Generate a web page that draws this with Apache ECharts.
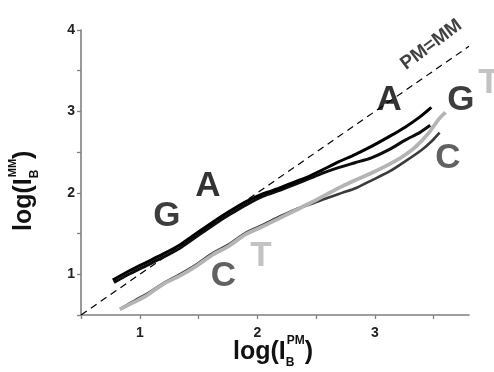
<!DOCTYPE html>
<html><head><meta charset="utf-8">
<script src="https://cdn.jsdelivr.net/npm/echarts@6/dist/echarts.min.js"></script>
<style>html,body{margin:0;padding:0;background:#fff}#c{width:494px;height:372px}</style>
</head><body><div id="c"></div>
<script>
// ---- data ----
const xTickValues = [0.5, 1, 1.5, 2, 2.5, 3, 3.5];
const xLabelValues = [1, 2, 3];
const yTickValues = [0.5, 1, 1.5, 2, 2.5, 3, 3.5, 4];
const yLabelValues = [1, 2, 3, 4];

const identityLine = [[0.5, 0.5], [3.8, 3.8]];

const seriesA = [[0.77,0.93],[0.92,1.05],[1.06,1.15],[1.2,1.25],[1.34,1.36],[1.48,1.5],[1.62,1.64],[1.76,1.77],[1.9,1.89],[2.05,1.99],[2.19,2.06],[2.33,2.14],[2.45,2.21],[2.55,2.28],[2.69,2.38],[2.83,2.47],[2.97,2.57],[3.12,2.69],[3.26,2.81],[3.38,2.93],[3.48,3.05]];
const seriesG = [[0.78,0.9],[0.92,1.01],[1.06,1.11],[1.2,1.21],[1.34,1.32],[1.48,1.46],[1.62,1.6],[1.76,1.73],[1.9,1.85],[2.05,1.96],[2.19,2.03],[2.33,2.11],[2.45,2.18],[2.55,2.24],[2.69,2.31],[2.83,2.37],[2.97,2.43],[3.12,2.53],[3.26,2.65],[3.38,2.74],[3.47,2.83]];
const seriesC = [[0.84,0.58],[0.97,0.69],[1.06,0.76],[1.2,0.89],[1.34,1.0],[1.48,1.12],[1.62,1.26],[1.76,1.37],[1.9,1.51],[2.05,1.61],[2.19,1.71],[2.33,1.8],[2.47,1.87],[2.6,1.94],[2.72,2.0],[2.84,2.06],[2.98,2.16],[3.12,2.26],[3.26,2.39],[3.4,2.53],[3.48,2.63],[3.55,2.74]];
const seriesT = [[0.83,0.57],[0.97,0.67],[1.06,0.74],[1.2,0.88],[1.34,0.98],[1.48,1.1],[1.62,1.24],[1.76,1.35],[1.9,1.49],[2.05,1.59],[2.19,1.69],[2.33,1.79],[2.47,1.89],[2.6,1.99],[2.72,2.08],[2.84,2.16],[2.98,2.25],[3.12,2.35],[3.24,2.45],[3.35,2.57],[3.46,2.74],[3.54,2.9],[3.6,2.99]];

const letterNames = ['G', 'A', 'C', 'T', 'A', 'G', 'T', 'C'];
const letterX = [1.23, 1.58, 1.71, 2.03, 3.12, 3.73, 3.97, 3.62];
const letterY = [1.71, 2.08, 0.98, 1.22, 3.14, 3.13, 3.34, 2.42];
const letterSeries = ['G', 'A', 'C', 'T', 'A', 'G', 'T', 'C'];

const identityLabel = 'PM=MM';
const identityLabelPos = [3.48, 3.82];

// ---- styles ----
const FONT = "'Liberation Sans', Arial, Helvetica, sans-serif";
const colorOf = { A: '#000000', G: '#0d0d0d', C: '#3a3a3a', T: '#b4b4b4' };
const AXIS_COLOR = '#808080';

const letterData = letterNames.map((n, i) => ({
  name: n,
  value: [letterX[i], letterY[i]],
  label: { color: colorOf[letterSeries[i]] }
}));

const chart = echarts.init(document.getElementById('c'), null, { renderer: 'canvas' });

const axisCommon = {
  axisLine: { show: true, lineStyle: { color: AXIS_COLOR, width: 1.6 } },
  splitLine: { show: false },
  axisLabel: { fontFamily: FONT, fontWeight: 'bold', fontSize: 14, color: '#222' }
};

const richTitle = (sup) => ({
  m: { fontFamily: FONT, fontWeight: 'bold', fontSize: 25, lineHeight: 34, fill: '#111' },
  b: { fontFamily: FONT, fontWeight: 'bold', fontSize: 12, lineHeight: 12, verticalAlign: 'bottom', width: 1, fill: '#111' },
  s: { fontFamily: FONT, fontWeight: 'bold', fontSize: sup, lineHeight: 12, verticalAlign: 'top', fill: '#111' }
});

const option = {
  animation: false,
  backgroundColor: '#ffffff',
  grid: { left: 81, right: 25, top: 30, bottom: 57, containLabel: false, outerBoundsMode: 'none' },
  xAxis: {
    type: 'value', min: 0.5, max: 3.8,
    ...axisCommon,
    axisTick: { show: true, length: 4, lineStyle: { color: AXIS_COLOR, width: 1.3 }, customValues: xTickValues },
    axisLabel: { ...axisCommon.axisLabel, margin: 11, customValues: xLabelValues, formatter: v => String(v) }
  },
  yAxis: {
    type: 'value', min: 0.5, max: 4,
    ...axisCommon,
    axisTick: { show: true, length: 4, lineStyle: { color: AXIS_COLOR, width: 1.3 }, customValues: yTickValues },
    axisLabel: { ...axisCommon.axisLabel, margin: 6, customValues: yLabelValues, formatter: v => String(v) }
  },
  series: [
    { name: 'PM=MM', type: 'line', data: identityLine, showSymbol: false, silent: true,
      lineStyle: { color: '#000', width: 1.2, type: [7, 5] }, z: 1 },
    { name: 'C', type: 'line', data: seriesC, showSymbol: false, silent: true, smooth: 0.25,
      lineStyle: { color: colorOf.C, width: 2.6 }, z: 2 },
    { name: 'T', type: 'line', data: seriesT, showSymbol: false, silent: true, smooth: 0.25,
      lineStyle: { color: colorOf.T, width: 3.8 }, z: 3 },
    { name: 'G', type: 'line', data: seriesG, showSymbol: false, silent: true, smooth: 0.25,
      lineStyle: { color: colorOf.G, width: 3 }, z: 4 },
    { name: 'A', type: 'line', data: seriesA, showSymbol: false, silent: true, smooth: 0.25,
      lineStyle: { color: colorOf.A, width: 3 }, z: 5 },
    { name: 'letters', type: 'scatter', data: letterData, symbolSize: 0, silent: true, clip: false, z: 6,
      label: { show: true, position: 'inside', formatter: '{b}', fontFamily: FONT, fontWeight: 'bold', fontSize: 35 } },
    { name: 'idlabel', type: 'scatter', data: [{ name: identityLabel, value: identityLabelPos }], symbolSize: 0, silent: true, clip: false, z: 6,
      label: { show: true, position: 'inside', formatter: '{b}', fontFamily: FONT, fontWeight: 'bold', fontSize: 19, color: '#111', rotate: 37 } }
  ],
  graphic: [
    { type: 'text', x: 233, y: 352, silent: true,
      style: { text: '{m|log(I}{b|B}{s|PM}{m|)}', align: 'left', verticalAlign: 'middle', rich: richTitle(12) } },
    { type: 'text', x: 24, y: 231, rotation: Math.PI / 2, silent: true,
      style: { text: '{m|log(I}{b|B}{s|MM}{m|)}', align: 'left', verticalAlign: 'middle', rich: richTitle(11) } }
  ]
};
chart.setOption(option);
</script>
</body></html>
